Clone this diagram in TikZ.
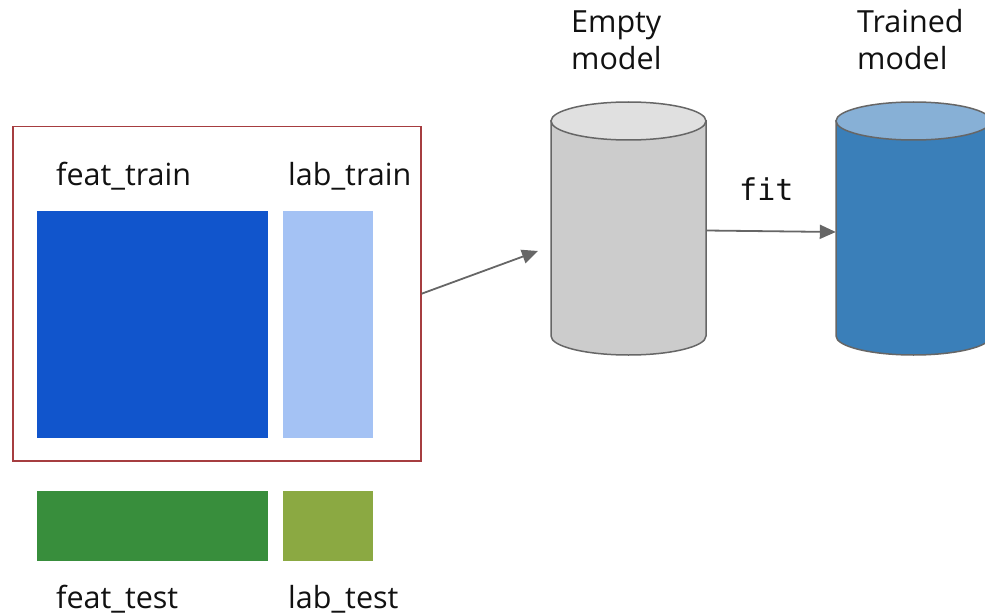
\documentclass[tikz,border=0pt]{standalone}
\usepackage{fontspec}
\setmainfont{Open Sans}
\newfontfamily\monofont{DejaVu Sans Mono}
\usetikzlibrary{arrows.meta}
\definecolor{featblue}{HTML}{1155CC}
\definecolor{labblue}{HTML}{A4C2F4}
\definecolor{featgreen}{HTML}{388E3C}
\definecolor{labgreen}{HTML}{8BA942}
\definecolor{boxred}{HTML}{A63D40}
\definecolor{edgegray}{HTML}{666666}
\definecolor{emptybody}{HTML}{CCCCCC}
\definecolor{emptytop}{HTML}{E0E0E0}
\definecolor{trainbody}{HTML}{3A7FB9}
\definecolor{traintop}{HTML}{87B0D6}
\definecolor{txt}{HTML}{111111}
\begin{document}
\begin{tikzpicture}[x=1pt,y=-1pt,
  lbl/.style={anchor=base west,inner sep=0pt,text=txt,font=\fontsize{30.5}{37}\selectfont,align=left},
  conn/.style={draw=edgegray,line width=1.8pt,-{Triangle[length=16pt,width=14pt]}},
  cyledge/.style={draw=edgegray,line width=1.5pt}]
\useasboundingbox (0,0) rectangle (985,615);
\begin{scope}
\clip (0,0) rectangle (985,615);
% data blocks
\node[fill=featblue,anchor=north west,inner sep=0pt,minimum width=231pt,minimum height=227pt] (feattrain) at (37,211) {};
\node[fill=labblue,anchor=north west,inner sep=0pt,minimum width=90pt,minimum height=227pt] (labtrain) at (283,211) {};
\node[fill=featgreen,anchor=north west,inner sep=0pt,minimum width=231pt,minimum height=70pt] (feattest) at (37,491) {};
\node[fill=labgreen,anchor=north west,inner sep=0pt,minimum width=90pt,minimum height=70pt] (labtest) at (283,491) {};
% training box
\node[draw=boxred,line width=1.5pt,anchor=north west,inner sep=0pt,minimum width=408pt,minimum height=334pt] (trainbox) at (12,126) {};
% labels
\node[lbl] (lfeattrain) at (56,185) {feat\_train};
\node[lbl] (llabtrain) at (288,185) {lab\_train};
\node[lbl] (lfeattest) at (56,608) {feat\_test};
\node[lbl] (llabtest) at (288,608) {lab\_test};
\node[lbl] (lempty) at (571,70) {Empty\\model};
\node[lbl] (ltrained) at (857,70) {Trained\\model};
% empty model cylinder
\path[fill=emptybody,cyledge] (551,121) -- (551,336) arc[start angle=180,end angle=0,x radius=77.5,y radius=19] -- (706,121) -- cycle;
\path[fill=emptytop,cyledge] (628.5,121) ellipse[x radius=77.5,y radius=19];
\node[inner sep=0pt,minimum width=155pt,minimum height=253pt] (empty) at (628.5,230.5) {};
% trained model cylinder
\path[fill=trainbody,cyledge] (836,121) -- (836,336) arc[start angle=180,end angle=0,x radius=77.5,y radius=19] -- (991,121) -- cycle;
\path[fill=traintop,cyledge] (913.5,121) ellipse[x radius=77.5,y radius=19];
\node[inner sep=0pt,minimum width=155pt,minimum height=253pt] (trained) at (913.5,230.5) {};
% connectors
\coordinate (a1end) at (538,251);
\draw[conn] (trainbox.east) -- (a1end);
\draw[conn] (empty.east) -- ([yshift=-1.5pt]trained.west);
\node[anchor=base west,inner sep=0pt,text=txt,font=\monofont\fontsize{30}{36}\selectfont] (fit) at (739,200) {fit};
\end{scope}
\end{tikzpicture}
\end{document}
